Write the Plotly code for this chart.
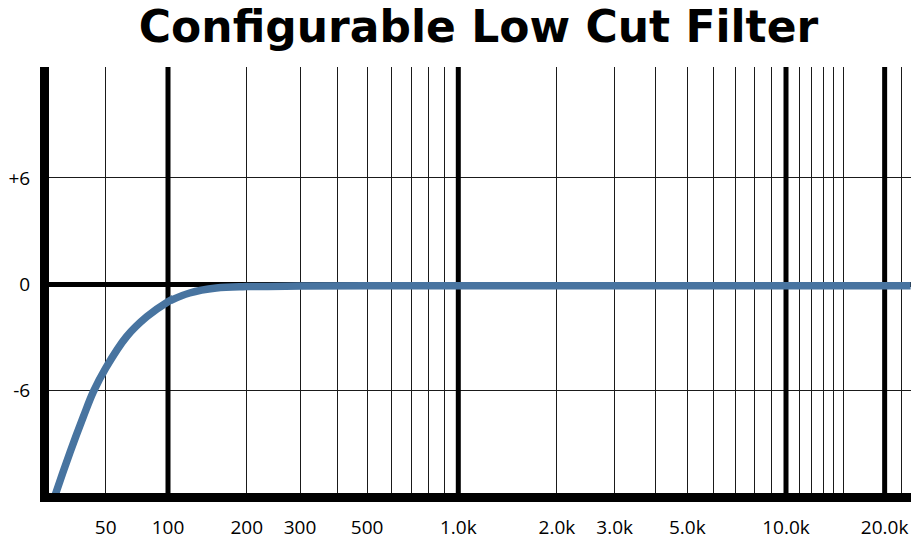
import math
import plotly.graph_objects as go

# ---------------- data ----------------
FREQ_HZ = [27, 28.4, 33.6, 39, 43.6, 50, 63, 79, 100, 121, 153, 200, 300, 500, 1000, 2000, 5000, 10000, 20000, 24000]
GAIN_DB = [-12.75, -11.95, -9.49, -7.47, -6.06, -4.73, -2.96, -1.83, -0.98, -0.49, -0.21, -0.13,
           -0.1, -0.08, -0.08, -0.08, -0.08, -0.08, -0.08, -0.08]

GRID_FREQS = [50, 100, 200, 300, 400, 500, 600, 700, 800, 900, 1000,
              2000, 3000, 4000, 5000, 6000, 7000, 8000, 9000, 10000,
              11000, 12000, 13000, 14000, 15000, 20000, 22500]
GRID_LABELS = ["50", "100", "200", "300", "", "500", "", "", "", "", "1.0k",
               "2.0k", "3.0k", "", "5.0k", "", "", "", "", "10.0k",
               "", "", "", "", "", "20.0k", ""]
MAJOR_FREQS = [100, 1000, 10000, 20000]

Y_TICKS = [-6, 0, 6]
Y_LABELS = ["-6", "0", "+6"]

TITLE = "Configurable Low Cut Filter"

# ---------------- layout (pixels of the 912x540 canvas) ----------------
W, H = 912, 540
PLOT_TOP_PX, PLOT_BOTTOM_PX = 67, 493
ZERO_PX, PX_PER_DB = 284.3, 17.72
Y_RANGE = [(ZERO_PX - PLOT_BOTTOM_PX) / PX_PER_DB, (ZERO_PX - PLOT_TOP_PX) / PX_PER_DB]

# The reference's frequency scale is drawn as log pieces whose decade widths differ;
# each piece is its own Plotly log axis, calibrated from two labelled grid lines.
SEGMENTS = [
    dict(px=(49, 172), ref=((50, 105.7), (100, 168.0))),
    dict(px=(172, 243), ref=((100, 168.0), (200, 246.7))),
    dict(px=(243, 462), ref=((200, 246.7), (1000, 458.3))),
    dict(px=(462, 911), ref=((1000, 458.3), (10000, 786.0))),
]


def log_range(px, ref):
    (f1, p1), (f2, p2) = ref
    k = (p2 - p1) / (math.log10(f2) - math.log10(f1))
    return [math.log10(f1) + (p - p1) / k for p in px]


CURVE_COLOR = "#4874a0"
GRID_COLOR = "#1a1a1a"
TICK_FONT = dict(family="Open Sans", size=19, color="black")

fig = go.Figure()

layout_axes = {}
seg_ranges = []
for i, seg in enumerate(SEGMENTS):
    rng = log_range(seg["px"], seg["ref"])
    seg_ranges.append(rng)
    name = "xaxis" if i == 0 else f"xaxis{i + 1}"
    inside = [j for j, f in enumerate(GRID_FREQS) if rng[0] < math.log10(f) < rng[1]]
    tv = [GRID_FREQS[j] for j in inside]
    tt = [GRID_LABELS[j] for j in inside]
    layout_axes[name] = dict(
        type="log",
        range=rng,
        domain=[seg["px"][0] / W, seg["px"][1] / W],
        anchor="y",
        automargin=False,
        showline=True, linewidth=9, linecolor="black",
        showgrid=bool(tv), gridcolor=GRID_COLOR, gridwidth=1.3,
        tickmode="array", tickvals=tv, ticktext=tt,
        showticklabels=bool(tv),
        ticks="", tickfont=TICK_FONT, ticklabelstandoff=9,
        zeroline=False, fixedrange=True,
    )


def axis_id(i):
    return "x" if i == 0 else f"x{i + 1}"


# heavy decade lines
for f in MAJOR_FREQS:
    for i, rng in enumerate(seg_ranges):
        if rng[0] < math.log10(f) < rng[1]:
            fig.add_trace(go.Scatter(
                x=[f, f], y=Y_RANGE, mode="lines",
                line=dict(color="black", width=5),
                xaxis=axis_id(i), yaxis="y", hoverinfo="skip", showlegend=False))
            break

# response curve (same data on every axis piece; each piece clips its own part)
for i in range(len(SEGMENTS)):
    fig.add_trace(go.Scatter(
        x=FREQ_HZ, y=GAIN_DB, mode="lines",
        line=dict(color=CURVE_COLOR, width=7.5, shape="spline", smoothing=1.0),
        xaxis=axis_id(i), yaxis="y", hoverinfo="skip", showlegend=False))

fig.update_layout(
    width=W, height=H,
    margin=dict(l=0, r=0, t=0, b=0, pad=0),
    paper_bgcolor="white", plot_bgcolor="white",
    showlegend=False,
    title=dict(text=TITLE, x=478.5 / W, xref="container", xanchor="center",
               y=1 - 27 / H, yref="container", yanchor="middle", automargin=False,
               font=dict(family="DejaVu Sans", size=44, weight="bold", color="black")),
    yaxis=dict(
        domain=[1 - PLOT_BOTTOM_PX / H, 1 - PLOT_TOP_PX / H],
        range=Y_RANGE, anchor="x", automargin=False,
        tickmode="array", tickvals=Y_TICKS, ticktext=Y_LABELS,
        showline=True, linewidth=9, linecolor="black",
        showgrid=True, gridcolor=GRID_COLOR, gridwidth=1.3,
        zeroline=True, zerolinecolor="black", zerolinewidth=5,
        ticks="", tickfont=TICK_FONT, ticklabelstandoff=6, fixedrange=True,
    ),
    **layout_axes,
)

fig.write_html("out.html", config={"displayModeBar": False},
               post_script="document.body.style.margin='0';")
